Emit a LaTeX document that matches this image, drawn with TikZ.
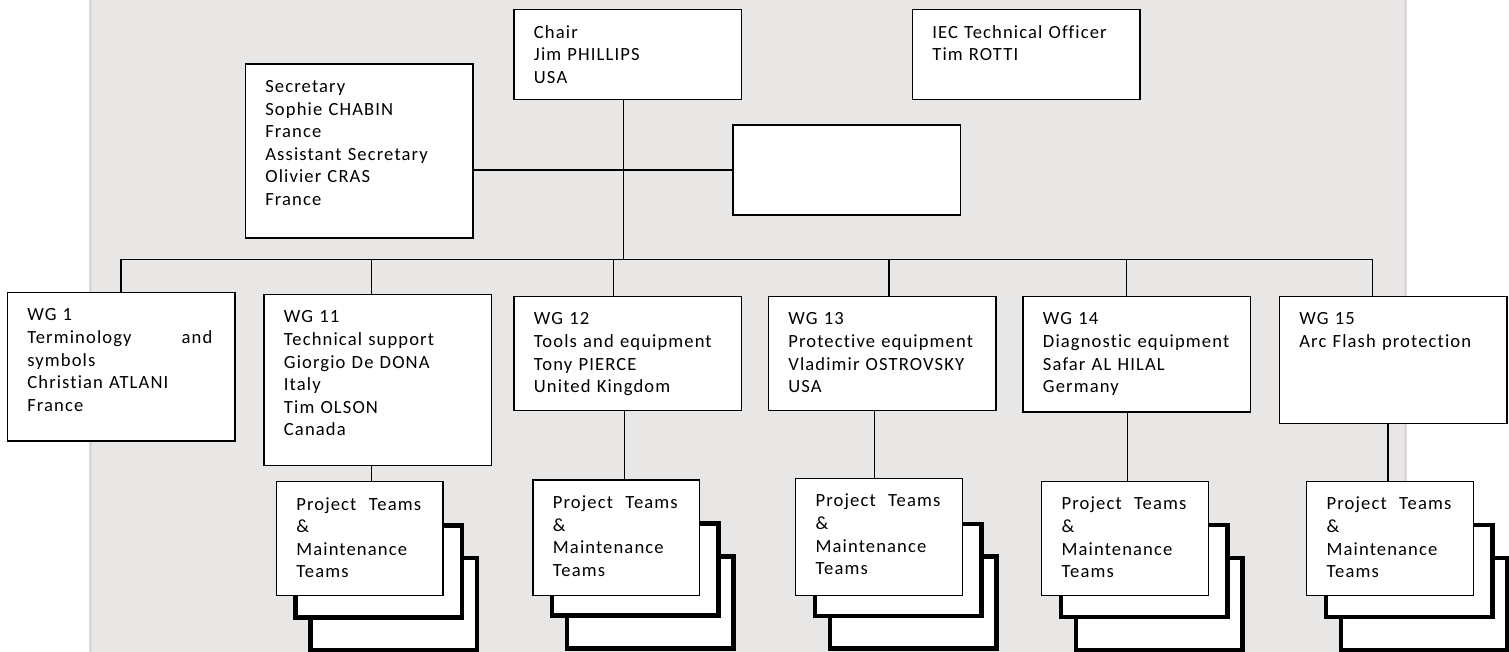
\documentclass[tikz,border=0pt]{standalone}
\usepackage{fontspec}
\setmainfont{Carlito}[LetterSpace=6, Ligatures={NoCommon}]
\usetikzlibrary{backgrounds}
\definecolor{panelgray}{RGB}{232,231,230}
\definecolor{paneledge}{RGB}{222,213,217}
\begin{document}
\begin{tikzpicture}[x=1pt, y=-1pt,
    every node/.style={font=\fontsize{18.6}{22.6}\selectfont},
    box/.style={draw, fill=white, line width=1.3pt, anchor=north west,
      inner xsep=20pt, inner ysep=0pt, align=left, text width=187.5pt,
      text height=28.5pt, text depth=#1-28.5},
    team/.style={box=#1, text width=126.5pt},
    shade/.style={draw, fill=white, line width=4.5pt, anchor=north west,
      inner sep=0pt, minimum width=166.5pt, minimum height=92pt},
    link/.style={line width=1.3pt}]
    \useasboundingbox (0,0) rectangle (1509,652);
    \begin{scope}[on background layer]
      \fill[panelgray] (89.3,0) rectangle (1406.7,652);
      \draw[paneledge, line width=2.7pt] (90.7,0) -- (90.7,652) (1405.3,0) -- (1405.3,652);
    \end{scope}

    \node[box=90] (chair) at (513.3,9) {Chair\\Jim PHILLIPS\\USA};
    \node[box=90] (officer) at (911.7,9) {IEC Technical Officer\\Tim ROTTI};
    \node[box=174] (secretary) at (244.7,63.3) {Secretary\\Sophie CHABIN\\France\\Assistant Secretary\\Olivier CRAS\\France};
    \node[box=90] (blank) at (732.3,124.3) {};

    \node[box=148.6] (wg1) at (6.7,291.7) {WG 1\\\makebox[185pt][l]{Terminology\hfill and}\\symbols\\Christian ATLANI\\France};
    \node[box=171] (wg11) at (263.3,293.7) {WG 11\\Technical support\\Giorgio De DONA\\Italy\\Tim OLSON\\Canada};
    \node[box=114.3] (wg12) at (513.3,295.7) {WG 12\\Tools and equipment\\Tony PIERCE\\United Kingdom};
    \node[box=114.3] (wg13) at (767.7,295.7) {WG 13\\Protective equipment\\Vladimir OSTROVSKY\\USA};
    \node[box=115.6] (wg14) at (1022.3,295.7) {WG 14\\Diagnostic equipment\\Safar AL HILAL\\Germany};
    \node[box=127.3] (wg15) at (1278.7,295.7) {WG 15\\Arc Flash protection};

    \node[team=114] (pt11) at (275.7,481) {\makebox[124.7pt][l]{Project\hfill Teams}\\\&\\Maintenance\\Teams};
    \node[team=115.7] (pt12) at (532.3,479.3) {\makebox[124.7pt][l]{Project\hfill Teams}\\\&\\Maintenance\\Teams};
    \node[team=117.3] (pt13) at (795,477.7) {\makebox[124.7pt][l]{Project\hfill Teams}\\\&\\Maintenance\\Teams};
    \node[team=114.3] (pt14) at (1041,480.7) {\makebox[124.7pt][l]{Project\hfill Teams}\\\&\\Maintenance\\Teams};
    \node[team=114.3] (pt15) at (1306,480.7) {\makebox[124.7pt][l]{Project\hfill Teams}\\\&\\Maintenance\\Teams};

    \begin{scope}[on background layer]
      \node[shade] (pt11c) at ([shift={(32.6,74.8)}]pt11.north west) {};
      \node[shade] (pt11b) at ([shift={(17.6,42)}]pt11.north west) {};
      \node[shade] (pt12c) at ([shift={(32.6,74.8)}]pt12.north west) {};
      \node[shade] (pt12b) at ([shift={(17.6,42)}]pt12.north west) {};
      \node[shade] (pt13c) at ([shift={(32.6,76.5)}]pt13.north west) {};
      \node[shade] (pt13b) at ([shift={(17.6,44)}]pt13.north west) {};
      \node[shade] (pt14c) at ([shift={(32.6,74.8)}]pt14.north west) {};
      \node[shade] (pt14b) at ([shift={(17.6,42)}]pt14.north west) {};
      \node[shade] (pt15c) at ([shift={(32.6,74.8)}]pt15.north west) {};
      \node[shade] (pt15b) at ([shift={(17.6,42)}]pt15.north west) {};
    \end{scope}

    \coordinate (hub) at (623.3,259.3);
    \coordinate (d1) at (121,259.3);
    \coordinate (d11) at (371.7,259.3);
    \coordinate (d12) at (613.7,259.3);
    \coordinate (d13) at (889,259.3);
    \coordinate (d14) at (1126.7,259.3);
    \coordinate (d15) at (1372.7,259.3);
    \draw[link] (chair.south -| hub) -- (hub);
    \draw[link] (secretary.east |- blank.west) -- (blank.west);
    \draw[link] (d1 |- wg1.north) -- (d1) -- (d15) -- (d15 |- wg15.north);
    \draw[link] (d11) -- (d11 |- wg11.north);
    \draw[link] (d12) -- (d12 |- wg12.north);
    \draw[link] (d13) -- (d13 |- wg13.north);
    \draw[link] (d14) -- (d14 |- wg14.north);
    \draw[link] ([xshift=12]pt11.north) -- ([xshift=12]pt11.north |- wg11.south);
    \draw[link] ([xshift=8.5]pt12.north) -- ([xshift=8.5]pt12.north |- wg12.south);
    \draw[link] ([xshift=-4.3]pt13.north) -- ([xshift=-4.3]pt13.north |- wg13.south);
    \draw[link] ([xshift=2.5]pt14.north) -- ([xshift=2.5]pt14.north |- wg14.south);
    \draw[link] ([xshift=-2]pt15.north) -- ([xshift=-2]pt15.north |- wg15.south);
\end{tikzpicture}
\end{document}
